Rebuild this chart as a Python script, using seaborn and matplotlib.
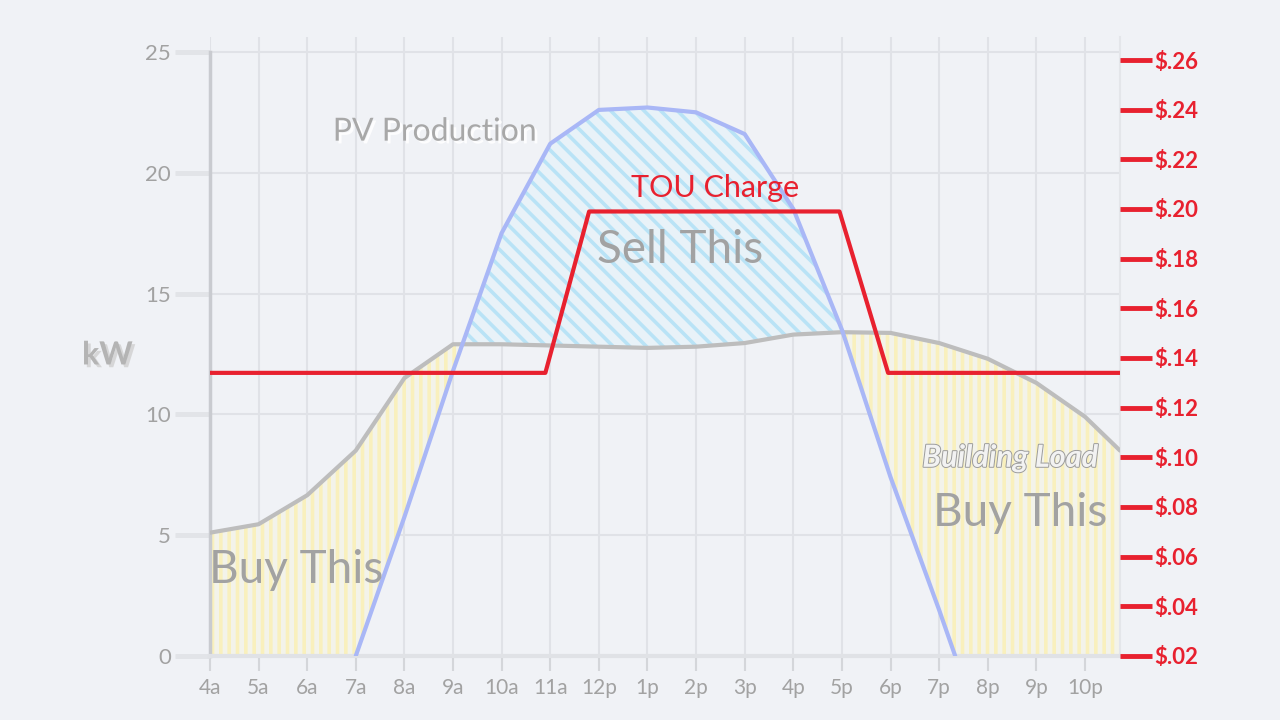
import numpy as np
import pandas as pd
import matplotlib
matplotlib.use('Agg')
import matplotlib.pyplot as plt
import seaborn as sns
from matplotlib import patheffects as pe

# hours after 4am (0 = 4a ... 18 = 10p)
tick_labels = ['4a', '5a', '6a', '7a', '8a', '9a', '10a', '11a', '12p', '1p',
               '2p', '3p', '4p', '5p', '6p', '7p', '8p', '9p', '10p']

load_hours = [0, 1, 2, 3, 4, 5, 6, 7, 8, 9, 10, 11, 12, 13, 14, 15, 16, 17, 18, 18.72]
load_kw = [5.1, 5.45, 6.65, 8.5, 11.5, 12.9, 12.9, 12.85, 12.8, 12.75, 12.8, 12.95,
           13.3, 13.4, 13.37, 12.95, 12.3, 11.3, 9.9, 8.5]

pv_hours = [3, 4, 5, 6, 7, 8, 9, 10, 11, 12, 13, 14, 15, 15.33]
pv_kw = [0, 5.75, 11.8, 17.5, 21.2, 22.6, 22.7, 22.5, 21.6, 18.5, 13.5, 7.4, 1.9, 0]

tou_hours = [0, 6.9, 7.8, 12.95, 13.95, 18.72]
tou_rate = [0.134, 0.134, 0.199, 0.199, 0.134, 0.134]

kw_ticks = [0, 5, 10, 15, 20, 25]
rate_ticks = [0.02, 0.04, 0.06, 0.08, 0.10, 0.12, 0.14, 0.16, 0.18, 0.20, 0.22, 0.24, 0.26]

load_df = pd.DataFrame({'hour': load_hours, 'kw': load_kw})
pv_df = pd.DataFrame({'hour': pv_hours, 'kw': pv_kw})
tou_df = pd.DataFrame({'hour': tou_hours, 'rate': tou_rate})

bg = '#f0f2f6'
grid_c = '#e0e2e7'
txt_gray = '#a2a2a2'
red = '#e8212f'

sns.set_theme(style='white', rc={'figure.facecolor': bg, 'axes.facecolor': bg,
                                 'hatch.linewidth': 2.6})
plt.rcParams['font.family'] = ['Lato', 'DejaVu Sans']

fig, ax = plt.subplots(figsize=(12.8, 7.2), dpi=100)
fig.subplots_adjust(left=0.164, right=0.875, bottom=0.089, top=0.948)

# fills between load and pv: pale base + coloured stripes
xs = np.union1d(load_hours, pv_hours)
load_i = np.interp(xs, load_hours, load_kw)
pv_i = np.interp(xs, pv_hours, pv_kw, left=0, right=0)
buy = load_i >= pv_i
sell = pv_i > load_i
ax.fill_between(xs, pv_i, load_i, where=buy, interpolate=True,
                facecolor='#f3f3ea', edgecolor='#f9f0bd', linewidth=0,
                hatch='||', zorder=1)
ax.fill_between(xs, load_i, pv_i, where=sell, interpolate=True,
                facecolor='#e8f2f8', edgecolor='#b9e3f6', linewidth=0,
                hatch='\\\\', zorder=1)

sns.lineplot(data=load_df, x='hour', y='kw', ax=ax, color='#bdbdbd', linewidth=3, zorder=3)
sns.lineplot(data=pv_df, x='hour', y='kw', ax=ax, color='#a9b7f6', linewidth=3, zorder=3)

ax.set_xlim(0, 18.72)
ax.set_ylim(0, 25.6)
ax.set_xticks(range(len(tick_labels)))
ax.set_xticklabels(tick_labels)
ax.set_yticks(kw_ticks)
ax.set_xlabel('')
ax.set_ylabel('')
ax.grid(True, color=grid_c, linewidth=1.5)
ax.set_axisbelow(True)
ax.tick_params(axis='y', length=25, width=3.5, color='#e2e4e8', labelsize=16,
               labelcolor=txt_gray, pad=3, left=True)
ax.tick_params(axis='x', length=11, width=1.5, color='#d4d6da', labelsize=15,
               labelcolor=txt_gray, pad=5, bottom=True)
ax.spines['top'].set_visible(False)
ax.spines['left'].set_bounds(0, 25)
ax.spines['left'].set_color('#c9cbd0')
ax.spines['left'].set_linewidth(2.5)
ax.spines['bottom'].set_color('#e0e2e6')
ax.spines['bottom'].set_linewidth(3)
ax.spines['right'].set_color('#e4e6ea')
ax.spines['right'].set_linewidth(1.5)

# right axis for TOU charge
ax2 = ax.twinx()
ax2.set_ylim(0.02, 0.02 + 0.01 * 25.6 * 24.16 / 24.83)
sns.lineplot(data=tou_df, x='hour', y='rate', ax=ax2, color=red, linewidth=3)
ax2.set_yticks(rate_ticks)
ax2.set_yticklabels(['$' + ('%.2f' % r)[1:] for r in rate_ticks])
ax2.set_ylabel('')
ax2.tick_params(axis='y', length=23, width=3.5, color=red, labelsize=16,
                labelcolor=red, pad=2, right=True)
for lbl in ax2.get_yticklabels():
    lbl.set_fontweight('bold')
for s in ['top', 'left', 'bottom', 'right']:
    ax2.spines[s].set_visible(False)
ax2.grid(False)

glow = [pe.withSimplePatchShadow(offset=(2, -2), shadow_rgbFace='white', alpha=0.9)]
ax.text(4.63, 21.7, 'PV Production', fontsize=23, color='#a8a8a8', ha='center',
        va='center', path_effects=glow, zorder=5)
ax.text(10.39, 19.37, 'TOU Charge', fontsize=22, color=red, ha='center', va='center', zorder=5)
ax.text(9.67, 16.8, 'Sell This', fontsize=33, color=txt_gray,
        ha='center', va='center', zorder=5)
ax.text(1.77, 3.56, 'Buy This', fontsize=33, color=txt_gray,
        ha='center', va='center', zorder=5)
ax.text(16.67, 5.92, 'Buy This', fontsize=33, color=txt_gray,
        ha='center', va='center', zorder=5)
ax.text(16.46, 8.2, 'Building Load', fontsize=22, color='#f2f2f2', style='italic',
        fontweight='bold', ha='center', va='center', zorder=5,
        path_effects=[pe.Stroke(linewidth=1.4, foreground='#9c9c9c'), pe.Normal()])
fig.text(0.084, 0.507, 'kW', fontsize=23, color='#b4b4b4', fontweight='bold',
         ha='center', va='center',
         path_effects=[pe.withSimplePatchShadow(offset=(2, -2), shadow_rgbFace='#d0d0d0', alpha=0.8)])

fig.savefig('out.png', dpi=100, facecolor=bg)
